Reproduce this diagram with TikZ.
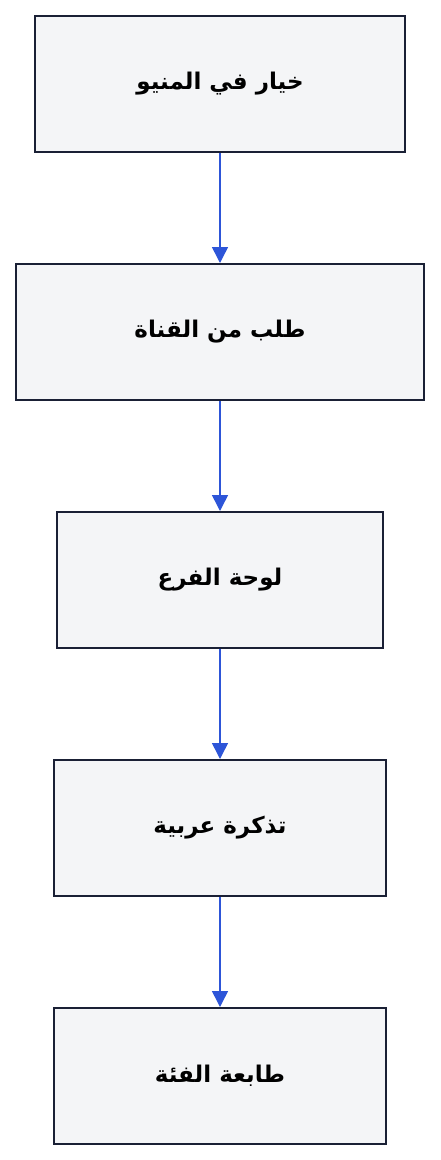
\documentclass[tikz,border=0pt]{standalone}
\usepackage{fontspec}
\TeXXeTstate=1
\newfontfamily\arabicfont[Script=Arabic]{DejaVu Sans}
\usetikzlibrary{arrows.meta}
\definecolor{boxfill}{HTML}{F4F5F7}
\definecolor{boxline}{HTML}{1A2035}
\definecolor{arrowblue}{HTML}{2D55D8}
\tikzset{
  stepbox/.style={draw=boxline, line width=2pt, fill=boxfill, inner sep=0pt,
    font=\arabicfont\bfseries\fontsize{23}{26}\selectfont},
  flow/.style={draw=arrowblue, line width=1.5pt, -{Triangle[length=16pt,width=16pt]}}
}
\begin{document}
\begin{tikzpicture}[x=1pt,y=-1pt]
\useasboundingbox (0,0) rectangle (440,1160);
\node[stepbox, minimum width=370pt, minimum height=136pt] (a) at (220,84) {\beginR خيار في المنيو\endR};
\node[stepbox, minimum width=408pt, minimum height=136pt] (b) at (220,332) {\beginR طلب من القناة\endR};
\node[stepbox, minimum width=326pt, minimum height=136pt] (c) at (220,580) {\beginR لوحة الفرع\endR};
\node[stepbox, minimum width=332pt, minimum height=136pt] (d) at (220,828) {\beginR تذكرة عربية\endR};
\node[stepbox, minimum width=332pt, minimum height=136pt] (e) at (220,1076) {\beginR طابعة الفئة\endR};
\draw[flow] (a) -- (b);
\draw[flow] (b) -- (c);
\draw[flow] (c) -- (d);
\draw[flow] (d) -- (e);
\end{tikzpicture}
\end{document}
